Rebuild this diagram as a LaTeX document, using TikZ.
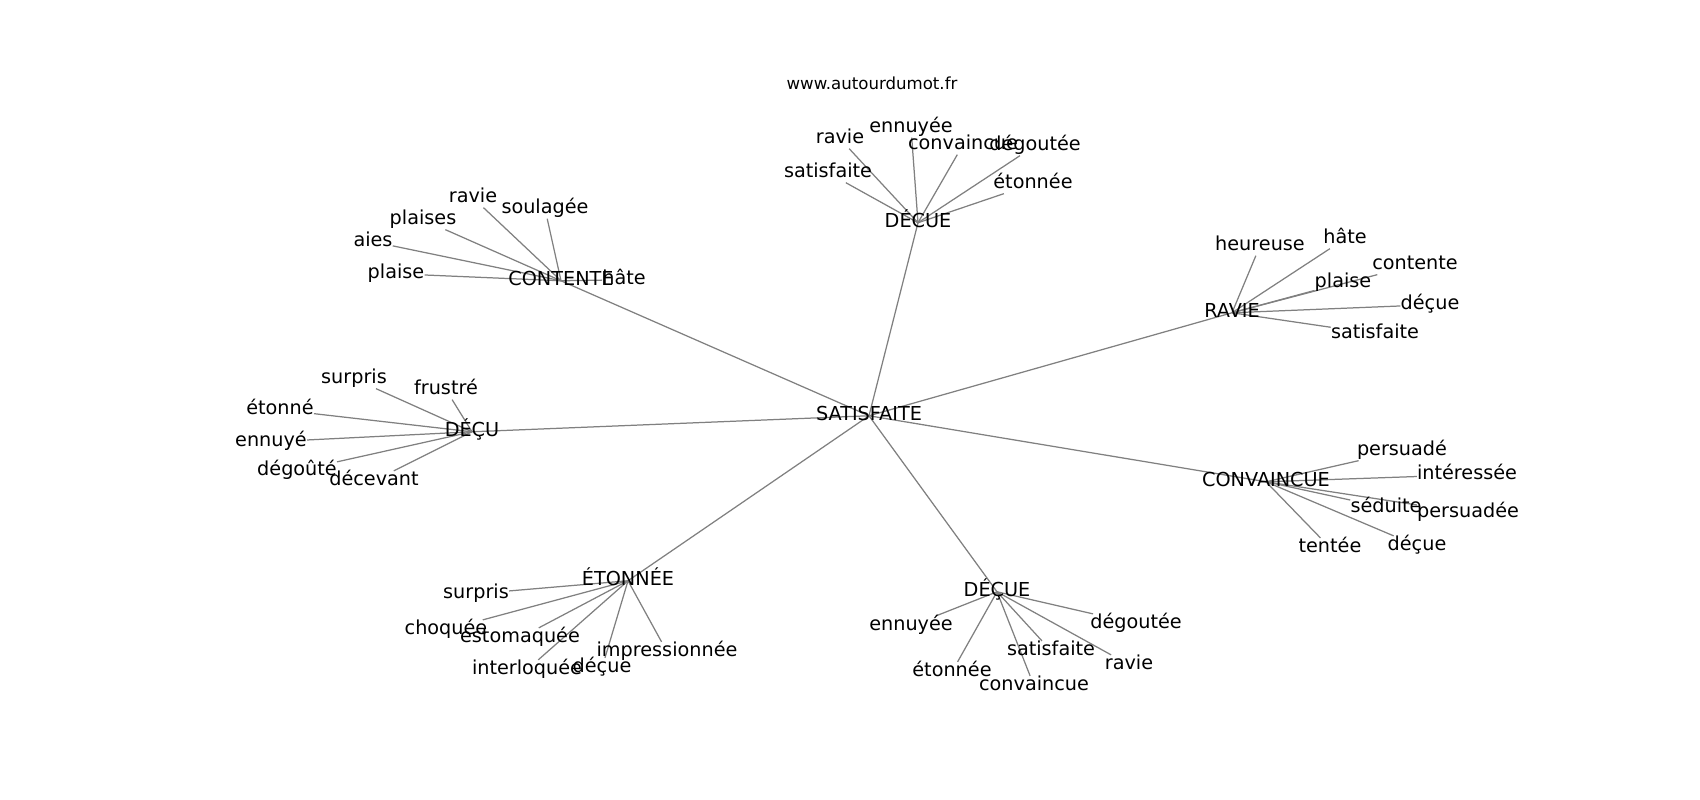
\documentclass[tikz,border=0pt]{standalone}
\usepackage{fontspec}
\setmainfont{DejaVu Sans}
\usetikzlibrary{backgrounds}
\tikzset{
  word/.style={inner sep=0pt,text height=10.6pt,text depth=3.3pt,yshift=-2pt,font=\fontsize{13.9}{16}\selectfont},
  link/.style={gray,line width=0.9pt}
}
\begin{document}
\begin{tikzpicture}[x=0.254mm,y=-0.254mm]
  \useasboundingbox (0,0) rectangle (1700,800);
  %% source
  \node[inner sep=0pt,font=\fontsize{12}{14}\selectfont] (site) at (872,83) {www.autourdumot.fr};
  %% hubs
  \node[word] (sat) at (869,413) {SATISFAITE};
  \node[word] (cont) at (561,278) {CONTENTE};
  \node[word] (topdecue) at (918,220) {DÉCUE};
  \node[word] (ravie) at (1232,310) {RAVIE};
  \node[word] (decu) at (472,429) {DÉÇU};
  \node[word] (conv) at (1266,479) {CONVAINCUE};
  \node[word] (eton) at (628,578) {ÉTONNÉE};
  \node[word] (botdecue) at (997,589) {DÉÇUE};
  \begin{scope}[on background layer]
    \foreach \h in {cont,topdecue,ravie,decu,conv,eton,botdecue}
      \draw[link] (sat.center) -- (\h.center);
  \end{scope}
  %% leaves
  \foreach \h/\leaves in {
      cont/{1/396/271/plaise,2/373/239/aies,3/423/217/plaises,4/473/195/ravie,5/545/206/soulagée,6/624/277/hâte},
      topdecue/{1/828/170/satisfaite,2/840/136/ravie,3/911/125/ennuyée,4/963/142/convaincue,5/1035/143/dégoutée,6/1033/181/étonnée},
      ravie/{1/1260/243/heureuse,2/1345/236/hâte,3/1415/262/contente,4/1343/280/plaise,5/1430/302/déçue,6/1375/331/satisfaite},
      decu/{1/354/376/surpris,2/446/387/frustré,3/280/407/étonné,4/271/439/ennuyé,5/297/468/dégoûté,6/374/478/décevant},
      conv/{1/1402/448/persuadé,2/1467/472/intéressée,3/1386/505/séduite,4/1468/510/persuadée,5/1330/545/tentée,6/1417/543/déçue},
      eton/{1/476/591/surpris,2/446/627/choquée,3/520/635/estomaquée,4/527/667/interloquée,5/602/665/déçue,6/667/649/impressionnée},
      botdecue/{1/911/623/ennuyée,2/952/669/étonnée,3/1034/683/convaincue,4/1051/648/satisfaite,5/1129/662/ravie,6/1136/621/dégoutée}}
    \foreach \n/\x/\y/\t in \leaves {
      \node[word] (\h\n) at (\x,\y) {\t};
      \begin{pgfonlayer}{background}
        \draw[link] (\h.center) -- (\h\n);
      \end{pgfonlayer}
    }
\end{tikzpicture}
\end{document}
